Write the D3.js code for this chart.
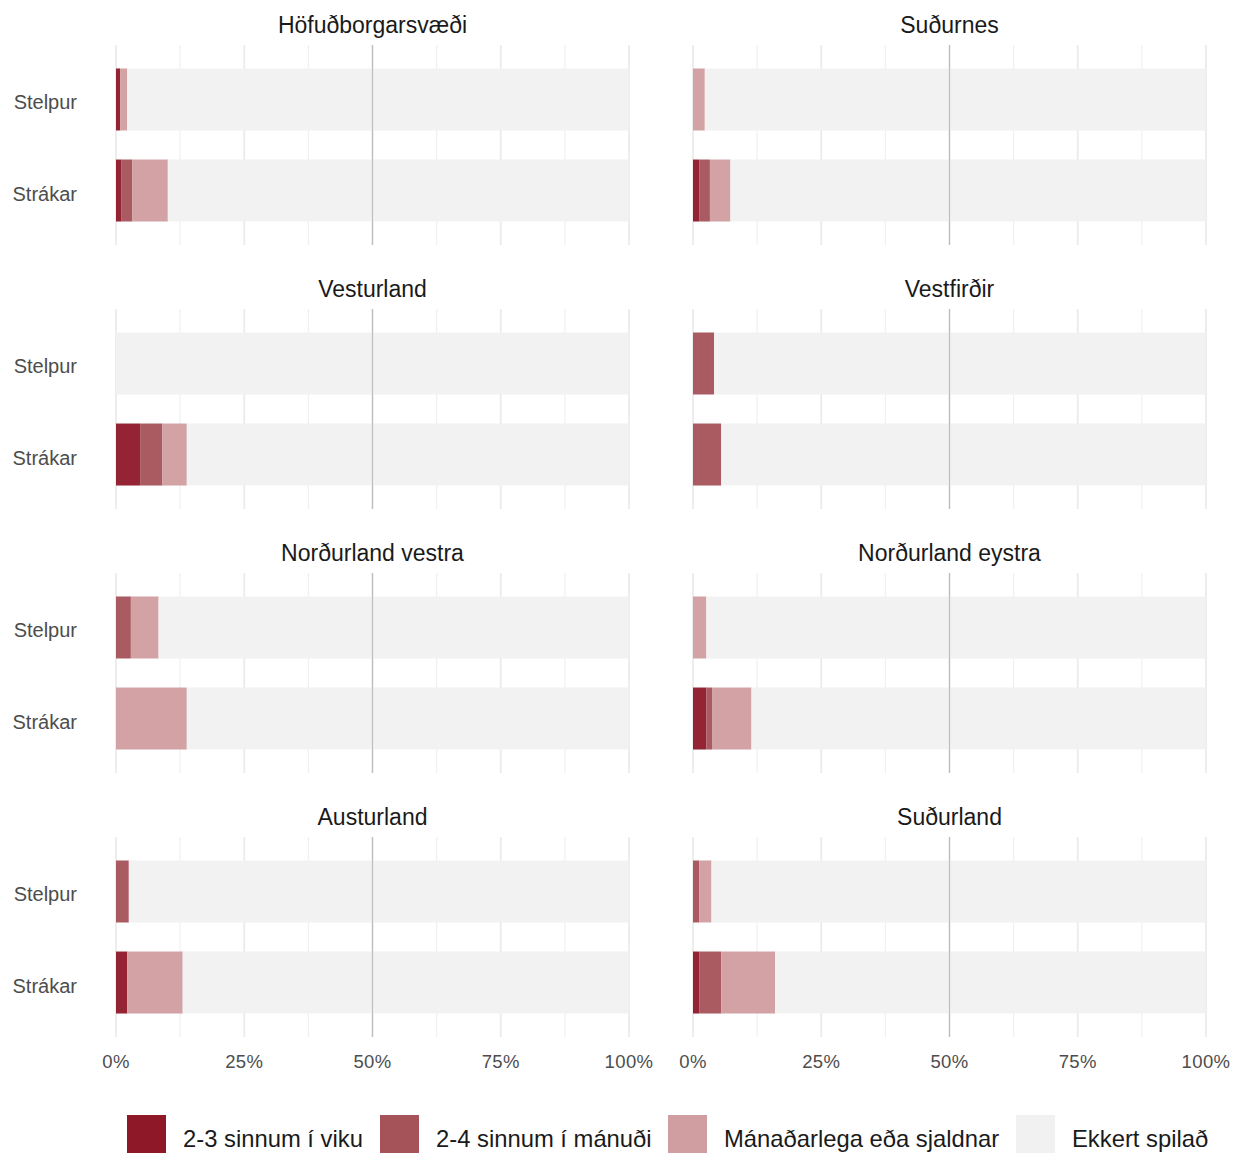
<!DOCTYPE html>
<html><head><meta charset="utf-8">
<script src="https://cdn.jsdelivr.net/npm/d3@7"></script>
<style>body{margin:0;background:#fff;font-family:"Liberation Sans",Arial,sans-serif;}</style>
</head><body><svg id="c" width="1236" height="1153"></svg>
<script>
const regions = ["Höfuðborgarsvæði","Suðurnes","Vesturland","Vestfirðir","Norðurland vestra","Norðurland eystra","Austurland","Suðurland"];
const genders = ["Stelpur","Strákar"];
const categories = ["2-3 sinnum í viku","2-4 sinnum í mánuði","Mánaðarlega eða sjaldnar","Ekkert spilað"];
const colors = ["#8e1828","#a55258","#d09da0","#f1f1f1"];
// percentages per region: [Stelpur, Strákar], each [weekly, monthly 2-4, monthly or less]
const weekly  = [[0.8,1.1],[0,1.2],[0,4.7],[0,0],[0,0],[0,2.6],[0,2.2],[0,1.2]];
const monthly = [[0,2.1],[0,2.1],[0,4.3],[4.1,5.5],[2.9,0],[0,1.2],[2.5,0],[1.2,4.3]];
const rarely  = [[1.4,6.9],[2.3,4.0],[0,4.8],[0,0],[5.4,13.8],[2.6,7.6],[0,10.8],[2.4,10.5]];
const xTicks = [0,0.25,0.5,0.75,1];
const xMinor = [0.125,0.375,0.625,0.875];

const svg = d3.select("#c");
const colX = [[116,629],[693,1206]];
const rowTop = [45,309,573,837];
const panelH = 200;

regions.forEach((reg,i)=>{
  const col = i%2, row = Math.floor(i/2);
  const x = d3.scaleLinear().domain([0,1]).range(colX[col]);
  const y = d3.scaleBand().domain(genders).range([rowTop[row], rowTop[row]+panelH]).paddingInner(0.319).paddingOuter(0.258);
  const g = svg.append("g");
  g.selectAll(".mn").data(xMinor).join("line")
    .attr("x1",d=>x(d)).attr("x2",d=>x(d)).attr("y1",rowTop[row]).attr("y2",rowTop[row]+panelH)
    .attr("stroke","#f0f0f0").attr("stroke-width",1.2);
  g.selectAll(".mj").data(xTicks).join("line")
    .attr("x1",d=>x(d)).attr("x2",d=>x(d)).attr("y1",rowTop[row]).attr("y2",rowTop[row]+panelH)
    .attr("stroke","#ebebeb").attr("stroke-width",1.8);
  const rows = genders.map((gname,gi)=>{
    const w = weekly[i][gi]/100, m = monthly[i][gi]/100, r = rarely[i][gi]/100;
    return {g:gname, vals:[w,m,r,1-w-m-r]};
  });
  rows.forEach(rw=>{
    let cum=0;
    const segs = rw.vals.map((v,k)=>{const s={x0:cum,x1:cum+v,k}; cum+=v; return s;});
    g.selectAll(null).data(segs.filter(s=>s.x1-s.x0>0)).join("rect")
      .attr("x",s=>x(s.x0)).attr("width",s=>x(s.x1)-x(s.x0))
      .attr("y",y(rw.g)).attr("height",y.bandwidth())
      .attr("fill",s=>colors[s.k]).attr("fill-opacity",0.95);
  });
  g.append("line").attr("x1",x(0.5)).attr("x2",x(0.5)).attr("y1",rowTop[row]).attr("y2",rowTop[row]+panelH)
    .attr("stroke","#bdbdbd").attr("stroke-width",1.2);
  g.append("text").attr("x",(colX[col][0]+colX[col][1])/2).attr("y",rowTop[row]-12)
    .attr("text-anchor","middle").attr("font-size",23).attr("fill","#1a1a1a").text(reg);
  if(col===0){
    g.selectAll(".yl").data(genders).join("text")
      .attr("x",77).attr("y",d=>y(d)+y.bandwidth()/2+10).attr("text-anchor","end")
      .attr("font-size",20).attr("fill","#4d4d4d").text(d=>d);
  }
  if(row===3){
    g.selectAll(".xl").data(xTicks).join("text")
      .attr("x",d=>x(d)).attr("y",1068).attr("text-anchor","middle")
      .attr("font-size",18.5).attr("letter-spacing",0.4).attr("fill","#4d4d4d").text(d=>d3.format(".0%")(d));
  }
});

const legX = [127,380,668,1016];
const lg = svg.append("g");
categories.forEach((c,k)=>{
  lg.append("rect").attr("x",legX[k]).attr("y",1115).attr("width",39).attr("height",39).attr("fill",colors[k]);
  lg.append("text").attr("x",legX[k]+56).attr("y",1147).attr("font-size",23.8).attr("fill","#1a1a1a").text(c);
});
</script></body></html>
